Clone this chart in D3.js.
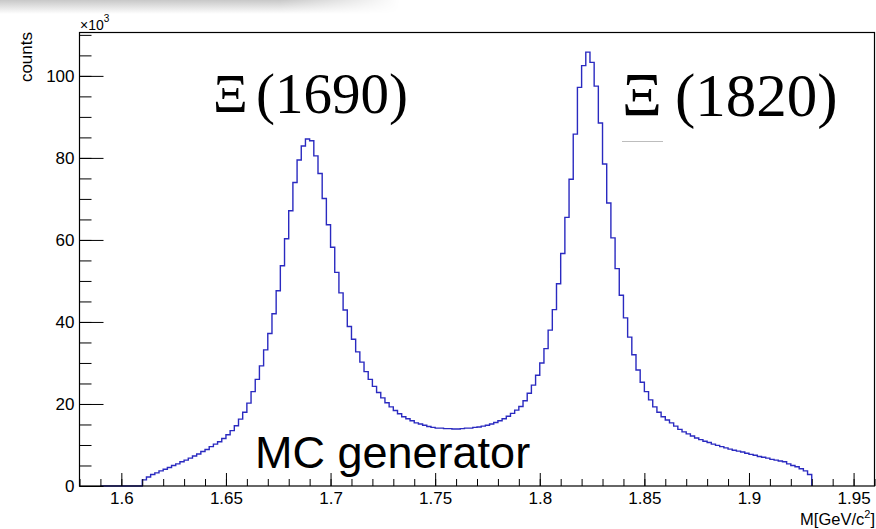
<!DOCTYPE html>
<html>
<head>
<meta charset="utf-8">
<script src="https://cdn.jsdelivr.net/npm/d3@7"></script>
<style>
  body { margin: 0; background: #fff; }
  svg { display: block; }
</style>
</head>
<body>
<svg id="chart" width="876" height="529"></svg>
<script>
// Invariant-mass spectrum from the MC generator, 0.002 GeV/c^2 bins, counts in units of 10^3
const binLow = 1.61;
const binWidth = 0.002;
const emptyFrom = 1.59;
const countsK = [
  1.5, 2.2, 2.8, 3.2, 3.7, 4.1, 4.5, 5.0, 5.4, 5.9,
  6.3, 6.8, 7.3, 7.8, 8.4, 8.9, 9.6, 10.2, 10.8, 11.6,
  12.5, 13.5, 14.7, 16.3, 18.0, 20.2, 23.0, 26.0, 29.3, 33.2,
  37.2, 42.0, 47.6, 53.7, 60.3, 67.1, 74.0, 79.5, 82.9, 84.6,
  84.2, 80.5, 76.2, 70.1, 63.7, 58.2, 52.1, 47.1, 42.9, 38.9,
  35.8, 32.7, 30.2, 27.9, 26.0, 24.3, 22.8, 21.5, 20.3, 19.3,
  18.4, 17.6, 16.9, 16.4, 15.9, 15.4, 15.1, 14.8, 14.5, 14.3,
  14.1, 14.1, 14.0, 14.0, 13.9, 13.9, 14.0, 14.1, 14.1, 14.3,
  14.4, 14.6, 14.8, 15.1, 15.5, 15.9, 16.4, 17.0, 17.7, 18.5,
  19.4, 20.8, 22.6, 24.6, 27.0, 30.0, 33.5, 38.0, 43.0, 49.3,
  56.7, 65.5, 74.8, 85.8, 97.2, 102.5, 105.8, 103.3, 97.5, 88.5,
  78.5, 69.0, 60.5, 53.0, 46.5, 41.0, 36.3, 32.0, 28.3, 25.3,
  23.0, 21.0, 19.3, 18.0, 16.9, 16.1, 15.4, 14.6, 13.8, 13.2,
  12.7, 12.2, 11.7, 11.3, 10.9, 10.6, 10.2, 9.9, 9.6, 9.3,
  9.0, 8.7, 8.5, 8.3, 8.0, 7.7, 7.5, 7.2, 7.0, 6.8,
  6.5, 6.3, 6.1, 5.9, 5.4, 5.0, 4.7, 4.2, 3.7, 2.8
];

const xDomain = [1.58, 1.96];
const yDomain = [0, 110.7];
const xTickValues = [1.6, 1.65, 1.7, 1.75, 1.8, 1.85, 1.9, 1.95];
const xTickLabels = ["1.6", "1.65", "1.7", "1.75", "1.8", "1.85", "1.9", "1.95"];
const yTickValues = [0, 20, 40, 60, 80, 100];
const yTickLabels = ["0", "20", "40", "60", "80", "100"];
const resonanceNames = ["\u039E", "\u039E"];
const resonanceMasses = ["(1690)", "(1820)"];
const xTitle = "M[GeV/c";
const yTitle = "counts";
const generatorLabel = "MC generator";

const svg = d3.select("#chart");
const plot = { left: 79.5, right: 874.5, top: 32, bottom: 486 };

const x = d3.scaleLinear().domain(xDomain).range([plot.left, plot.right]);
const y = d3.scaleLinear().domain(yDomain).range([plot.bottom, plot.top]);

const sans = "'Liberation Sans', Arial, Helvetica, sans-serif";
const serif = "'Liberation Serif', 'Times New Roman', serif";

// soft shadow along the top-left edge of the canvas
const defs = svg.append("defs");
const gv = defs.append("linearGradient").attr("id", "shadeV").attr("x1", 0).attr("y1", 0).attr("x2", 0).attr("y2", 1);
gv.append("stop").attr("offset", "0%").attr("stop-color", "#c8c8c8");
gv.append("stop").attr("offset", "100%").attr("stop-color", "#ffffff");
const gh = defs.append("linearGradient").attr("id", "shadeH").attr("x1", 0).attr("y1", 0).attr("x2", 1).attr("y2", 0);
gh.append("stop").attr("offset", "0%").attr("stop-color", "#fff").attr("stop-opacity", 1);
gh.append("stop").attr("offset", "70%").attr("stop-color", "#fff").attr("stop-opacity", 1);
gh.append("stop").attr("offset", "100%").attr("stop-color", "#fff").attr("stop-opacity", 0);
const mask = defs.append("mask").attr("id", "shadeMask");
mask.append("rect").attr("x", 0).attr("y", 0).attr("width", 400).attr("height", 14).attr("fill", "url(#shadeH)");
svg.append("rect").attr("x", 0).attr("y", 0).attr("width", 400).attr("height", 14)
  .attr("fill", "url(#shadeV)").attr("mask", "url(#shadeMask)");

// histogram outline
const pts = [[emptyFrom, 0], [binLow, 0]];
countsK.forEach((v, i) => pts.push([binLow + i * binWidth, v]));
const binHigh = binLow + countsK.length * binWidth;
pts.push([binHigh, countsK[countsK.length - 1]]);
pts.push([binHigh, 0]);

const line = d3.line()
  .x(d => x(d[0]))
  .y(d => y(d[1]))
  .curve(d3.curveStepAfter);

svg.append("path")
  .datum(pts)
  .attr("d", line)
  .attr("fill", "none")
  .attr("stroke", "#2a2ac0")
  .attr("stroke-width", 1.4)
  .attr("stroke-linejoin", "miter");

// axes with inward ticks
function styleAxis(g) {
  g.select(".domain").remove();
  g.selectAll("line").attr("stroke", "#000").attr("stroke-width", 1);
  g.selectAll("text").attr("fill", "#000").style("font-family", sans).style("font-size", "17px");
}

svg.append("g")
  .attr("transform", `translate(0,${plot.bottom})`)
  .call(d3.axisBottom(x).tickValues(x.ticks(38)).tickFormat("").tickSizeInner(-7).tickSizeOuter(0))
  .call(styleAxis);
svg.append("g")
  .attr("transform", `translate(0,${plot.bottom})`)
  .call(d3.axisBottom(x).tickValues(xTickValues).tickFormat((d, i) => xTickLabels[i])
    .tickSizeInner(-13).tickSizeOuter(0).tickPadding(6))
  .call(styleAxis);

svg.append("g")
  .attr("transform", `translate(${plot.left},0)`)
  .call(d3.axisLeft(y).tickValues(y.ticks(22)).tickFormat("").tickSizeInner(-12).tickSizeOuter(0))
  .call(styleAxis);
svg.append("g")
  .attr("transform", `translate(${plot.left},0)`)
  .call(d3.axisLeft(y).tickValues(yTickValues).tickFormat((d, i) => yTickLabels[i])
    .tickSizeInner(-24).tickSizeOuter(0).tickPadding(5))
  .call(styleAxis);

// frame
svg.append("rect")
  .attr("x", plot.left).attr("y", plot.top + 0.5)
  .attr("width", plot.right - plot.left).attr("height", plot.bottom - plot.top - 0.5)
  .attr("fill", "none").attr("stroke", "#000").attr("stroke-width", 1.2);

// exponent marker
const expo = svg.append("text").attr("x", 80).attr("y", 30)
  .style("font-family", sans).style("font-size", "14px").attr("fill", "#000");
expo.append("tspan").text("\u00D710");
expo.append("tspan").attr("dy", -8).style("font-size", "10px").text("3");

// axis titles
svg.append("text")
  .attr("transform", `translate(32,32) rotate(-90)`)
  .attr("text-anchor", "end")
  .style("font-family", sans).style("font-size", "17px").attr("fill", "#000")
  .text(yTitle);

const xt = svg.append("text").attr("x", 875).attr("y", 524.5).attr("text-anchor", "end")
  .style("font-family", sans).style("font-size", "16.5px").attr("fill", "#000");
xt.append("tspan").text(xTitle);
xt.append("tspan").attr("dy", -7).style("font-size", "11px").text("2");
xt.append("tspan").attr("dy", 7).text("]");

// resonance labels
const labelSpec = [
  { nameX: 213, nameY: 112, nameSize: 54, massX: 256, massY: 113, massSize: 57 },
  { nameX: 622, nameY: 115, nameSize: 62, massX: 675, massY: 116, massSize: 61 }
];
labelSpec.forEach((s, i) => {
  svg.append("text").attr("x", s.nameX).attr("y", s.nameY)
    .style("font-family", serif).style("font-size", s.nameSize + "px").attr("fill", "#000")
    .text(resonanceNames[i]);
  svg.append("text").attr("x", s.massX).attr("y", s.massY)
    .style("font-family", serif).style("font-size", s.massSize + "px").attr("fill", "#000")
    .text(resonanceMasses[i]);
});
svg.append("line").attr("x1", 622).attr("x2", 663).attr("y1", 141.5).attr("y2", 141.5)
  .attr("stroke", "#bdbdbd").attr("stroke-width", 1);

// generator annotation
svg.append("text").attr("x", 255).attr("y", 468)
  .style("font-family", sans).style("font-size", "45px").attr("fill", "#000")
  .text(generatorLabel);
</script>
</body>
</html>
